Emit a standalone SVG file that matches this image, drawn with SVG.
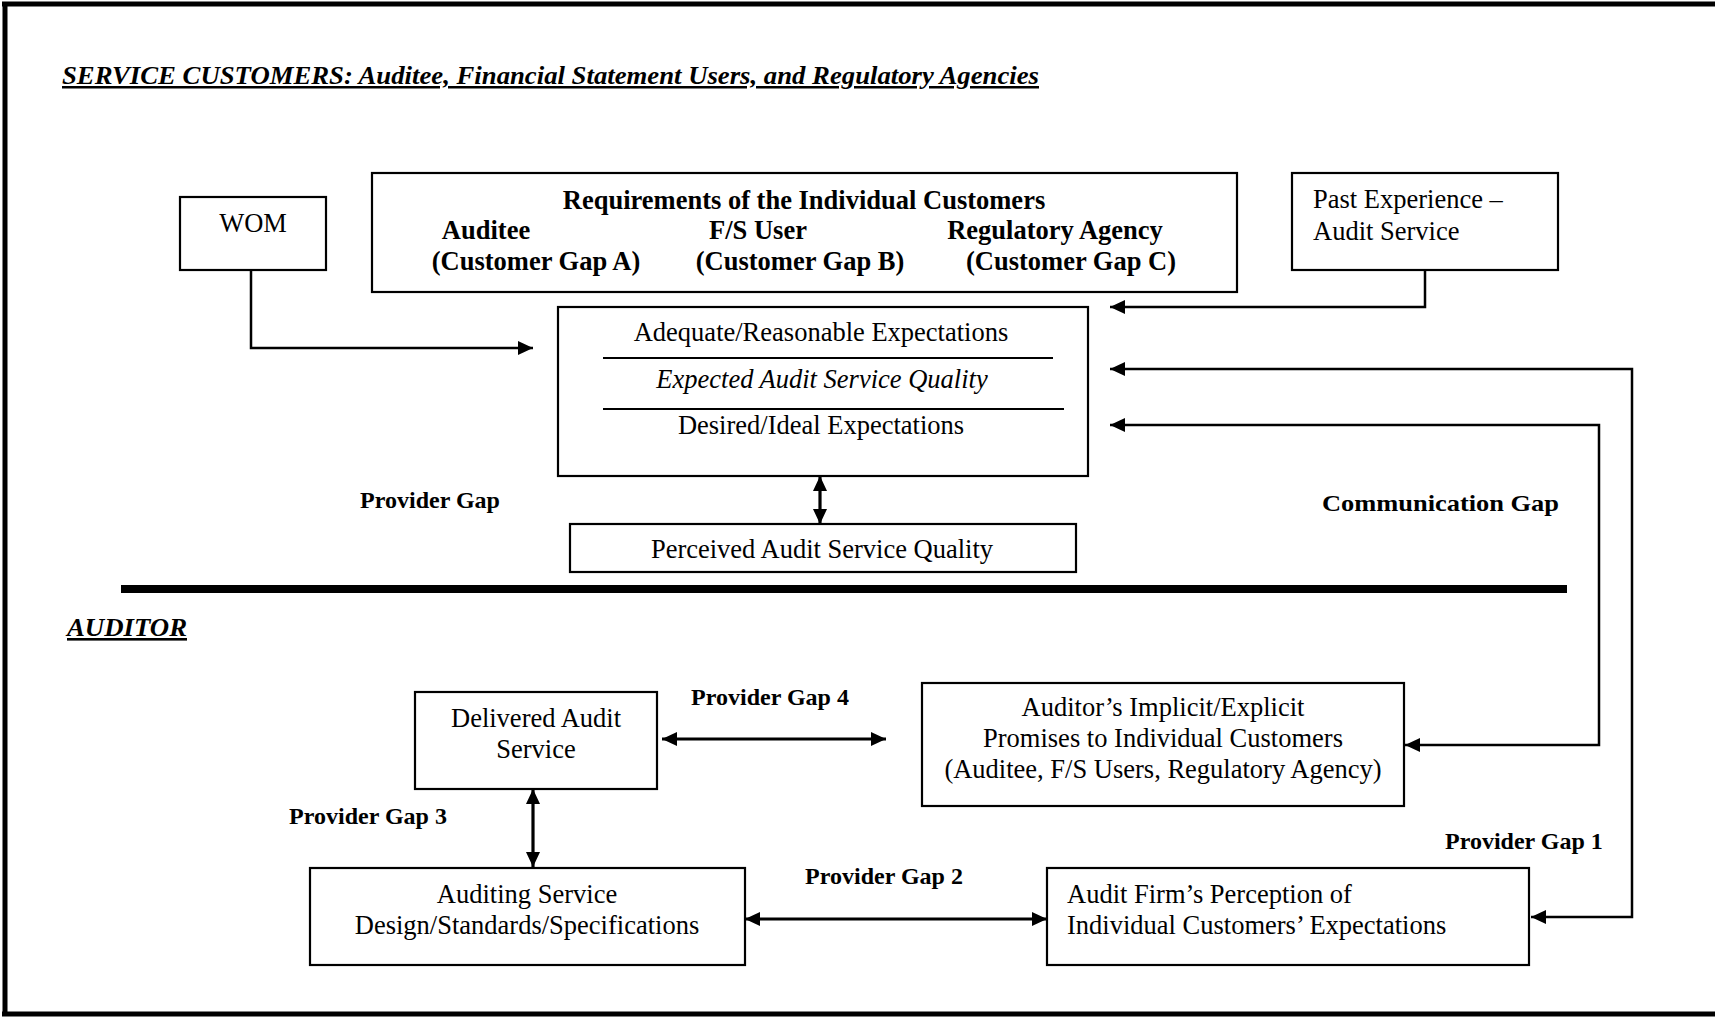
<svg xmlns="http://www.w3.org/2000/svg" width="1715" height="1017" viewBox="0 0 1715 1017">
<style>
text{font-family:"Liberation Serif","Times New Roman",serif;fill:#000}
.t{font-size:26.5px}
.c{text-anchor:middle}
.b{font-weight:bold}
.g{font-size:24px;font-weight:bold}
.box{fill:#fff;stroke:#000;stroke-width:2.2}
.wire{fill:none;stroke:#000;stroke-width:2.5}
.gap{fill:none;stroke:#000;stroke-width:3.2}
.hd{font-size:25px;font-weight:bold;font-style:italic;text-decoration:underline wavy}
</style>
<defs>
<marker id="ah" markerUnits="userSpaceOnUse" markerWidth="16" markerHeight="14" refX="15" refY="7" orient="auto-start-reverse">
<path d="M0,0 L15,7 L0,14 z" fill="#000"/>
</marker>
</defs>
<rect width="1715" height="1017" fill="#fff"/>
<g id="frame" fill="none" stroke="#000">
<line x1="2" y1="4" x2="1715" y2="4" stroke-width="5"/>
<line x1="5" y1="2" x2="5" y2="1016" stroke-width="5"/>
<line x1="2" y1="1014" x2="1715" y2="1014" stroke-width="5"/>
<line x1="121" y1="589" x2="1567" y2="589" stroke-width="8"/>
</g>
<text class="hd" x="62" y="84" textLength="977" lengthAdjust="spacingAndGlyphs">SERVICE CUSTOMERS: Auditee, Financial Statement Users, and Regulatory Agencies</text>
<text class="hd" x="67" y="636" style="font-size:26px" textLength="120" lengthAdjust="spacingAndGlyphs">AUDITOR</text>

<g id="wom"><rect class="box" x="180" y="197" width="146" height="73"/><text class="t c" x="253" y="232">WOM</text></g>
<g id="requirements"><rect class="box" x="372" y="173" width="865" height="119"/>
<text class="t c b" x="804" y="209">Requirements of the Individual Customers</text>
<text class="t c b" x="486" y="239">Auditee</text>
<text class="t c b" x="758" y="239">F/S User</text>
<text class="t c b" x="1055" y="239">Regulatory Agency</text>
<text class="t c b" x="536" y="270">(Customer Gap A)</text>
<text class="t c b" x="800" y="270">(Customer Gap B)</text>
<text class="t c b" x="1071" y="270">(Customer Gap C)</text></g>
<g id="past"><rect class="box" x="1292" y="173" width="266" height="97"/>
<text class="t" x="1313" y="208">Past Experience –</text>
<text class="t" x="1313" y="240">Audit Service</text></g>
<g id="expectations"><rect class="box" x="558" y="307" width="530" height="169"/>
<text class="t c" x="821" y="341">Adequate/Reasonable Expectations</text>
<line x1="603" y1="358" x2="1053" y2="358" stroke="#000" stroke-width="2"/>
<text class="t c" x="822" y="388" font-style="italic">Expected Audit Service Quality</text>
<line x1="603" y1="409" x2="1064" y2="409" stroke="#000" stroke-width="2"/>
<text class="t c" x="821" y="434">Desired/Ideal Expectations</text></g>
<g id="perceived"><rect class="box" x="570" y="524" width="506" height="48"/>
<text class="t c" x="822" y="558">Perceived Audit Service Quality</text></g>
<g id="delivered"><rect class="box" x="415" y="692" width="242" height="97"/>
<text class="t c" x="536" y="727">Delivered Audit</text>
<text class="t c" x="536" y="758">Service</text></g>
<g id="promises"><rect class="box" x="922" y="683" width="482" height="123"/>
<text class="t c" x="1163" y="716">Auditor’s Implicit/Explicit</text>
<text class="t c" x="1163" y="747">Promises to Individual Customers</text>
<text class="t c" x="1163" y="778">(Auditee, F/S Users, Regulatory Agency)</text></g>
<g id="design"><rect class="box" x="310" y="868" width="435" height="97"/>
<text class="t c" x="527" y="903">Auditing Service</text>
<text class="t c" x="527" y="934">Design/Standards/Specifications</text></g>
<g id="perception"><rect class="box" x="1047" y="868" width="482" height="97"/>
<text class="t" x="1067" y="903">Audit Firm’s Perception of</text>
<text class="t" x="1067" y="934">Individual Customers’ Expectations</text></g>

<g id="connectors">
<path class="wire" d="M251,270 V348 H533" marker-end="url(#ah)"/>
<path class="wire" d="M1425,270 V307 H1110" marker-end="url(#ah)"/>
<path class="wire" d="M1110,369 H1632 V917 H1531" marker-start="url(#ah)" marker-end="url(#ah)"/>
<path class="wire" d="M1110,425 H1599 V745 H1405" marker-start="url(#ah)" marker-end="url(#ah)"/>
<path class="gap" d="M820,476 V524" marker-start="url(#ah)" marker-end="url(#ah)"/>
<path class="gap" d="M662,739 H886" marker-start="url(#ah)" marker-end="url(#ah)"/>
<path class="gap" d="M533,789 V867" marker-start="url(#ah)" marker-end="url(#ah)"/>
<path class="gap" d="M745,919 H1047" marker-start="url(#ah)" marker-end="url(#ah)"/>
</g>
<g id="labels">
<text class="g c" x="430" y="508">Provider Gap</text>
<text class="g" x="1322" y="511" textLength="237" lengthAdjust="spacingAndGlyphs">Communication Gap</text>
<text class="g c" x="770" y="705">Provider Gap 4</text>
<text class="g c" x="368" y="824">Provider Gap 3</text>
<text class="g c" x="884" y="884">Provider Gap 2</text>
<text class="g" x="1445" y="849">Provider Gap 1</text>
</g>
</svg>
